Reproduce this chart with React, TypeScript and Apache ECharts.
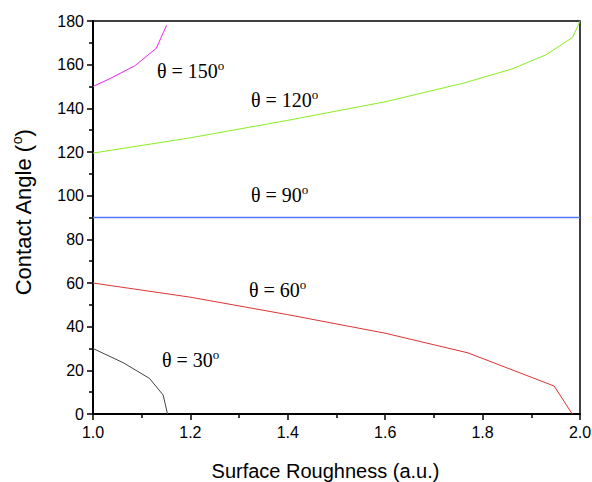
import React, { useEffect, useRef } from "react";
import * as echarts from "echarts";

const x150 = [1.0, 1.034, 1.086, 1.13, 1.151];
const y150 = [150, 153.5, 159.5, 167.5, 178];
const x120 = [1.0, 1.2, 1.4, 1.6, 1.76, 1.86, 1.93, 1.985, 2.0];
const y120 = [119.5, 126.5, 134.5, 143, 151.5, 158, 164.5, 172.5, 180];
const x90 = [1.0, 2.0];
const y90 = [90, 90];
const x60 = [1.0, 1.2, 1.4, 1.6, 1.77, 1.947, 1.984];
const y60 = [60, 53.5, 45.5, 37, 28, 12.8, 0];
const x30 = [1.0, 1.062, 1.116, 1.144, 1.153];
const y30 = [30, 23.5, 16.3, 8.7, 0];

const labels = ["θ = 150", "θ = 120", "θ = 90", "θ = 60", "θ = 30"];

const zip = (xs: number[], ys: number[]) => xs.map((x, i) => [x, ys[i]]);

export default function App() {
  const ref = useRef<HTMLDivElement>(null);
  useEffect(() => {
    const chart = echarts.init(ref.current!, null, { renderer: "svg" });
    const lbl = (text: string, left: number, top: number) => ({
      type: "text",
      left,
      top,
      style: {
        text: text + "{s|o}",
        font: '20px "Liberation Serif"',
        fill: "#000",
        rich: { s: { fontFamily: "Liberation Serif", fontSize: 13, color: "#000", padding: [0, 0, 11, 0] } },
      },
    });
    chart.setOption({
      animation: false,
      backgroundColor: "#fff",
      grid: { left: 93, right: 12, top: 21, bottom: 68, outerBoundsMode: "none", containLabel: false, show: true, borderColor: "#000", borderWidth: 1.5, backgroundColor: "transparent" },
      xAxis: {
        type: "value",
        min: 1,
        max: 2,
        interval: 0.2,
        name: "Surface Roughness (a.u.)",
        nameLocation: "middle",
        nameGap: 47,
        nameTextStyle: { fontFamily: "Liberation Sans", fontSize: 20, color: "#000", padding: [0, 22, 0, 0] },
        axisLine: { lineStyle: { color: "#000", width: 2 } },
        axisTick: { length: 6, lineStyle: { color: "#000", width: 1.5 } },
        minorTick: { show: true, splitNumber: 2, length: 4, lineStyle: { color: "#000", width: 1.5 } },
        splitLine: { show: false },
        axisLabel: { fontFamily: "Liberation Sans", fontSize: 16, color: "#000", margin: 10, formatter: (v: number) => v.toFixed(1) },
      },
      yAxis: {
        type: "value",
        min: 0,
        max: 180,
        interval: 20,
        name: "Contact Angle ({s|o})",
        nameLocation: "middle",
        nameGap: 57,
        nameTextStyle: { fontFamily: "Liberation Sans", fontSize: 22, color: "#000", padding: [0, 0, 0, 10], rich: { s: { fontFamily: "Liberation Sans", fontSize: 14, color: "#000", padding: [0, 0, 12, 0] } } },
        axisLine: { lineStyle: { color: "#000", width: 2 } },
        axisTick: { length: 6, lineStyle: { color: "#000", width: 1.5 } },
        minorTick: { show: true, splitNumber: 2, length: 4, lineStyle: { color: "#000", width: 1.5 } },
        splitLine: { show: false },
        axisLabel: { fontFamily: "Liberation Sans", fontSize: 16, color: "#000", margin: 9 },
      },
      series: [
        { type: "line", data: zip(x150, y150), showSymbol: false, lineStyle: { color: "#ee22ee", width: 1 } },
        { type: "line", data: zip(x120, y120), showSymbol: false, lineStyle: { color: "#88ee22", width: 1 } },
        { type: "line", data: zip(x90, y90), showSymbol: false, z: 5, lineStyle: { color: "#5577ff", width: 1.3 } },
        { type: "line", data: zip(x60, y60), showSymbol: false, lineStyle: { color: "#dd3333", width: 1 } },
        { type: "line", data: zip(x30, y30), showSymbol: false, lineStyle: { color: "#444444", width: 1 } },
      ],
      graphic: [
        lbl(labels[0], 157, 59),
        lbl(labels[1], 251, 88),
        lbl(labels[2], 251, 183),
        lbl(labels[3], 249, 278),
        lbl(labels[4], 162, 348),
      ],
    });
    return () => chart.dispose();
  }, []);
  return <div ref={ref} style={{ width: 592, height: 482, position: "absolute", left: 0, top: 0 }} />;
}
